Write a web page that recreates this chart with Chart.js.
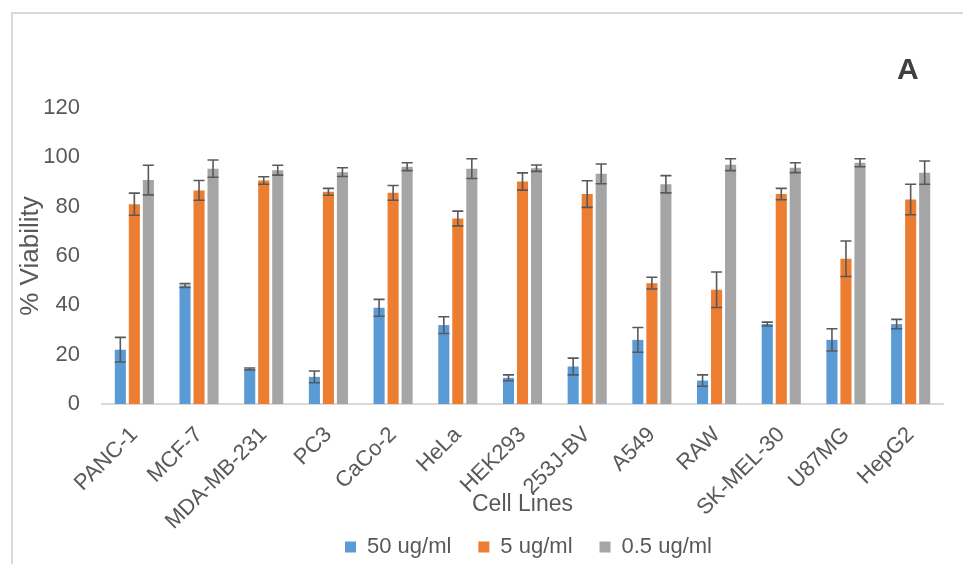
<!DOCTYPE html>
<html>
<head>
<meta charset="utf-8">
<script src="https://cdn.jsdelivr.net/npm/chart.js@4.4.0/dist/chart.umd.min.js"></script>
<style>
  html, body { margin: 0; padding: 0; background: #fff; overflow: hidden; }
  #wrap { position: relative; width: 963px; height: 564px; }
  #frame { position: absolute; left: 11px; top: 12px; width: 1000px; height: 600px; border: 2px solid #d9d9d9; }
  #myChart { position: absolute; left: 0; top: 0; }
</style>
</head>
<body>
<div id="wrap">
  <div id="frame"></div>
  <canvas id="myChart" width="963" height="564"></canvas>
</div>
<script>
// cell lines on the x axis
var cellLines = ['PANC-1', 'MCF-7', 'MDA-MB-231', 'PC3', 'CaCo-2', 'HeLa', 'HEK293',
                 '253J-BV', 'A549', 'RAW', 'SK-MEL-30', 'U87MG', 'HepG2'];
var seriesNames = ['50 ug/ml', '5 ug/ml', '0.5 ug/ml'];

// % viability
var v50 = [22, 48, 14.2, 11, 39, 32, 10.6, 15.2, 26, 9.5, 32.4, 26, 32.4];
var v5  = [81, 86.6, 90.6, 86, 85.6, 75.2, 90.2, 85.1, 49, 46.3, 85.1, 58.9, 82.9];
var v05 = [90.8, 95.4, 94.8, 94, 96.2, 95.4, 95.6, 93.3, 89.1, 97, 95.8, 97.8, 93.8];

// error bars (+/-)
var e50 = [5, 0.8, 0.4, 2.4, 3.4, 3.4, 1.2, 3.4, 5, 2.3, 0.8, 4.5, 1.9];
var e5  = [4.5, 4, 1.5, 1.4, 3, 3, 3.5, 5.4, 2.4, 7.2, 2.3, 7.2, 6.2];
var e05 = [6, 3.5, 2, 1.8, 1.6, 4, 1.3, 4, 3.5, 2.4, 2, 1.6, 4.7];

var yTicks = [0, 20, 40, 60, 80, 100, 120];

var txt = '#595959';
var fam = '"Liberation Sans", Arial, sans-serif';

// error bars drawn on top of the bars
var errorBars = {
  id: 'errorBars',
  afterDatasetsDraw: function (chart) {
    var ctx = chart.ctx;
    var y = chart.scales.y;
    ctx.save();
    ctx.strokeStyle = '#595959';
    ctx.lineWidth = 1.6;
    chart.data.datasets.forEach(function (ds, d) {
      var meta = chart.getDatasetMeta(d);
      meta.data.forEach(function (bar, i) {
        var v = ds.data[i], e = ds.errors[i];
        var top = y.getPixelForValue(v + e);
        var bot = y.getPixelForValue(v - e);
        var half = bar.width / 2;
        ctx.beginPath();
        ctx.moveTo(bar.x, top); ctx.lineTo(bar.x, bot);
        ctx.moveTo(bar.x - half, top); ctx.lineTo(bar.x + half, top);
        ctx.moveTo(bar.x - half, bot); ctx.lineTo(bar.x + half, bot);
        ctx.stroke();
      });
    });
    ctx.restore();
  }
};

// panel letter, legend nudge, and room for the rotated labels
var extras = {
  id: 'extras',
  afterLayout: function (chart) {
    chart.legend.left += 57;
    chart.legend.right += 57;
    // tick labels are clipped to the axis box, let it overlap the legend strip
    chart.scales.x.bottom = 530;
    chart.scales.x.height = chart.scales.x.bottom - chart.scales.x.top;
  },
  afterDraw: function (chart) {
    var ctx = chart.ctx;
    ctx.save();
    ctx.fillStyle = '#404040';
    ctx.font = 'bold 30px ' + fam;
    ctx.textAlign = 'left';
    ctx.textBaseline = 'alphabetic';
    ctx.fillText('A', 897, 79);
    ctx.restore();
  }
};

var ctx = document.getElementById('myChart').getContext('2d');
var myChart = new Chart(ctx, {
  type: 'bar',
  data: {
    labels: cellLines,
    datasets: [
      { label: seriesNames[0], data: v50, errors: e50, backgroundColor: '#5B9BD5' },
      { label: seriesNames[1], data: v5, errors: e5, backgroundColor: '#ED7D31' },
      { label: seriesNames[2], data: v05, errors: e05, backgroundColor: '#A5A5A5' }
    ]
  },
  plugins: [errorBars, extras],
  options: {
    responsive: false,
    animation: false,
    devicePixelRatio: 1,
    categoryPercentage: 0.65,
    barPercentage: 0.79,
    layout: { padding: { left: 0, right: 20, top: 108, bottom: -4 } },
    plugins: {
      tooltip: { enabled: false },
      legend: {
        position: 'bottom',
        labels: {
          boxWidth: 11, boxHeight: 11, padding: 27,
          color: txt, font: { family: fam, size: 22 }
        }
      }
    },
    scales: {
      x: {
        grid: { display: false, drawTicks: false },
        border: { display: true, color: '#d9d9d9', width: 2 },
        ticks: {
          color: txt, font: { family: fam, size: 22 },
          minRotation: 45, maxRotation: 45, autoSkip: false, padding: 18
        },
        title: {
          display: true, text: 'Cell Lines', color: txt,
          font: { family: fam, size: 23 }, padding: { top: 0, bottom: 12 }
        },
        afterFit: function (scale) { scale.height = 105; }
      },
      y: {
        min: 0, max: 120,
        afterBuildTicks: function (scale) {
          scale.ticks = yTicks.map(function (v) { return { value: v }; });
        },
        grid: { display: false, drawTicks: false },
        border: { display: false },
        ticks: { color: txt, font: { family: fam, size: 22 }, padding: 22 },
        title: {
          display: true, text: '% Viability', color: txt,
          font: { family: fam, size: 26 }, padding: { top: 15, bottom: 0 }
        },
        afterFit: function (scale) { scale.width = 102; }
      }
    }
  }
});
</script>
</body>
</html>
